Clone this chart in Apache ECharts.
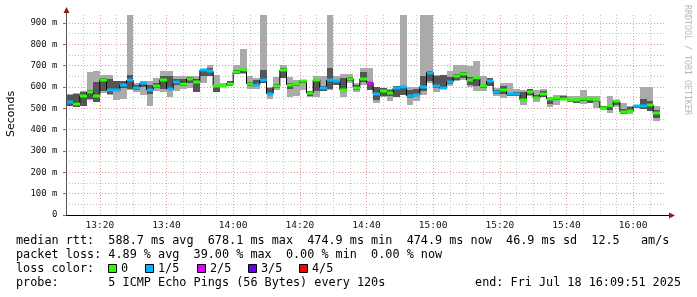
<!DOCTYPE html>
<html>
<head>
<meta charset="utf-8">
<script src="https://cdn.jsdelivr.net/npm/echarts@6/dist/echarts.min.js"></script>
<style>
html,body{margin:0;padding:0;background:#fff;}
#c{width:697px;height:297px;}
</style>
</head>
<body>
<div id="c"></div>
<script>
// ---------------- DATA ----------------
// step start times (120 s steps)
const stepTimes = ["13:10","13:12","13:14","13:16","13:18","13:20","13:22","13:24","13:26","13:28",
"13:30","13:32","13:34","13:36","13:38","13:40","13:42","13:44","13:46","13:48",
"13:50","13:52","13:54","13:56","13:58","14:00","14:02","14:04","14:06","14:08",
"14:10","14:12","14:14","14:16","14:18","14:20","14:22","14:24","14:26","14:28",
"14:30","14:32","14:34","14:36","14:38","14:40","14:42","14:44","14:46","14:48",
"14:50","14:52","14:54","14:56","14:58","15:00","15:02","15:04","15:06","15:08",
"15:10","15:12","15:14","15:16","15:18","15:20","15:22","15:24","15:26","15:28",
"15:30","15:32","15:34","15:36","15:38","15:40","15:42","15:44","15:46","15:48",
"15:50","15:52","15:54","15:56","15:58","16:00","16:02","16:04","16:06"];
const stepMinutes = 2;
// median rtt (ms)
const medianRtt = [528,522,556,575,558,634,587,584,608,631,
597,617,587,606,634,591,625,616,638,625,
678,673,603,606,616,672,678,616,609,634,
569,603,678,611,614,627,572,634,597,631,
627,587,639,597,638,620,566,583,572,596,
600,558,563,602,667,605,594,623,650,660,
632,640,605,627,575,586,566,566,541,575,
547,566,545,549,544,537,537,542,542,537,
502,509,533,484,487,511,511,515,476];
// loss level (0..4 of 5 pings)
const lossLevel = [1,0,0,0,0,0,1,1,1,1,
1,1,1,0,0,1,1,0,0,0,
1,1,0,0,0,0,0,0,1,1,
1,0,0,0,0,0,0,0,1,1,
1,0,0,0,0,2,1,0,0,1,
1,1,1,1,1,1,1,1,0,0,
0,0,0,1,1,0,1,1,0,0,
0,0,0,0,0,0,0,0,0,0,
0,0,0,0,0,1,1,0,0];
// smoke: outer (min..max) and inner ping ranges (ms)
const smokeOuterLo = [510,505,509,541,528,572,562,541,544,588,
575,564,513,580,575,553,580,591,597,575,
619,650,575,600,603,662,662,591,591,619,
544,584,642,553,559,584,553,553,580,584,
609,553,619,575,609,587,525,553,533,553,
564,514,533,564,619,575,600,603,627,634,
600,580,580,603,556,548,559,559,517,556,
528,553,506,517,541,528,525,519,525,502,
491,478,506,475,475,500,497,486,439];
const smokeOuterHi = [567,570,580,669,673,658,658,627,630,1000,
619,627,627,644,673,673,653,650,653,653,
681,705,658,619,627,705,778,653,642,1000,
600,647,705,647,634,634,580,650,650,1000,
653,662,662,619,689,689,600,595,591,603,
1000,600,600,1000,1000,658,658,673,705,705,
697,720,650,642,595,619,619,591,587,591,
584,591,553,564,564,559,556,584,556,556,
513,559,541,525,513,513,600,600,513];
const smokeInnerLo = [512,506,509,544,528,580,569,580,595,591,
587,600,569,595,591,588,611,603,619,575,
653,650,575,603,606,662,666,606,606,619,
569,595,642,591,606,619,559,580,580,591,
611,587,627,587,622,587,541,559,559,553,
564,548,559,580,627,595,595,614,634,641,
611,606,595,603,569,569,559,559,537,564,
544,553,522,541,541,528,525,533,525,528,
497,494,516,475,491,500,497,486,455];
const smokeInnerHi = [564,567,575,587,622,642,639,627,630,658,
611,623,611,620,650,650,637,637,647,637,
681,689,611,611,627,681,681,622,634,678,
595,614,689,619,616,634,580,638,606,689,
634,642,647,611,669,619,600,595,584,603,
600,587,591,653,677,653,655,647,662,669,
647,647,611,642,587,603,572,578,575,591,
564,580,548,553,556,541,537,548,541,541,
513,513,537,497,506,513,544,533,494];
// loss colors / legend
const lossLabels = ["0","1/5","2/5","3/5","4/5"];
const lossColors = ["#26ff00","#00b8ff","#dd00ff","#5e00ff","#ff0000"];
// axes
const yMajorTicks = [0,100,200,300,400,500,600,700,800,900];
const yMinorTicks = [50,150,250,350,450,550,650,750,850];
const xMajorTickLabels = ["13:20","13:40","14:00","14:20","14:40","15:00","15:20","15:40","16:00"];
const xMinorTickLabels = ["13:15","13:25","13:30","13:35","13:45","13:50","13:55","14:05","14:10","14:15","14:25","14:30","14:35","14:45","14:50","14:55","15:05","15:10","15:15","15:25","15:30","15:35","15:45","15:50","15:55","16:05"];
const rangeStart = "13:09:51", rangeEnd = "16:09:51";
// legend text values
const rttStats = ["588.7","678.1","474.9","474.9","46.9","12.5"];
const lossStats = ["4.89","39.00","0.00","0.00"];
const probeText = "5 ICMP Echo Pings (56 Bytes) every 120s";
const endText = "end: Fri Jul 18 16:09:51 2025";

// ---------------- HELPERS ----------------
function toMin(s){const p=s.split(':').map(Number);return p[0]*60+p[1]+(p[2]||0)/60;}
function fmt(m){const h=Math.floor(m/60),mm=Math.round(m-h*60);return h+':'+(mm<10?'0':'')+mm;}
const xMin = toMin(rangeStart), xMax = toMin(rangeEnd);
const t0s = stepTimes.map(toMin);

const smokeData = t0s.map((t,i)=>[t,t+stepMinutes,smokeOuterLo[i],smokeOuterHi[i],smokeInnerLo[i],smokeInnerHi[i]]);
const medLine = t0s.map((t,i)=>[t,medianRtt[i]]);
medLine.push([t0s[t0s.length-1]+stepMinutes, medianRtt[medianRtt.length-1]]);
const lossData = t0s.map((t,i)=>[t,t+stepMinutes,medianRtt[i],lossLevel[i]]);

const MONO = '"DejaVu Sans Mono", monospace';
const chart = echarts.init(document.getElementById('c'), null, {renderer:'canvas'});

function rectFrom(api, x0, x1, lo, hi){
  const a = api.coord([x0, hi]), b = api.coord([x1, lo]);
  const X0 = Math.round(a[0]), X1 = Math.round(b[0]);
  const Y0 = Math.round(a[1]), Y1 = Math.round(b[1]);
  return {x:X0, y:Y0, width:X1-X0, height:Y1-Y0};
}

const grayGrid = '#c4c4c4', redGrid = '#e09a9a';

const legendY = [241,255,269,283];
const boxX = [108,145,197,248,299];
const boxLabelX = [121,158,210,261,312];

const graphic = [
  {type:'line', shape:{x1:66.5,y1:15,x2:66.5,y2:11}, style:{stroke:'#555',lineWidth:1}, z:10},
  {type:'polygon', shape:{points:[[66.5,7],[63.5,13],[69.5,13]]}, style:{fill:'#8b1c1c'}, z:10},
  {type:'line', shape:{x1:666,y1:215.5,x2:670,y2:215.5}, style:{stroke:'#000',lineWidth:1}, z:10},
  {type:'polygon', shape:{points:[[675,215.5],[669,212.5],[669,218.5]]}, style:{fill:'#8b1c1c'}, z:10},
  {type:'text', x:11, y:114, rotation:Math.PI/2, style:{text:'Seconds', font:'11px "DejaVu Sans", sans-serif', fill:'#000', align:'center', verticalAlign:'middle'}},
  {type:'text', x:687, y:5, rotation:-Math.PI/2, style:{text:'RRDTOOL / TOBI OETIKER', font:'8.3px '+MONO, fill:'#b8b8b8', align:'left', verticalAlign:'middle'}},
  {type:'text', x:16, y:legendY[0], style:{text:'median rtt:  '+rttStats[0]+' ms avg  '+rttStats[1]+' ms max  '+rttStats[2]+' ms min  '+rttStats[3]+' ms now  '+rttStats[4]+' ms sd  '+rttStats[5]+'   am/s', font:'11.8px '+MONO, fill:'#000', align:'left', verticalAlign:'middle'}},
  {type:'text', x:16, y:legendY[1], style:{text:'packet loss: '+lossStats[0]+' % avg  '+lossStats[1]+' % max  '+lossStats[2]+' % min  '+lossStats[3]+' % now', font:'11.8px '+MONO, fill:'#000', align:'left', verticalAlign:'middle'}},
  {type:'text', x:16, y:legendY[2], style:{text:'loss color:', font:'11.8px '+MONO, fill:'#000', align:'left', verticalAlign:'middle'}},
  {type:'text', x:16, y:legendY[3], style:{text:'probe:       '+probeText, font:'11.8px '+MONO, fill:'#000', align:'left', verticalAlign:'middle'}},
  {type:'text', x:681, y:legendY[3], style:{text:endText, font:'11.8px '+MONO, fill:'#000', align:'right', verticalAlign:'middle'}}
];
lossLabels.forEach((lab,i)=>{
  graphic.push({type:'rect', shape:{x:boxX[i]+0.5,y:legendY[2]-4.5,width:8,height:8}, style:{fill:lossColors[i], stroke:'#000', lineWidth:1}});
  graphic.push({type:'text', x:boxLabelX[i], y:legendY[2], style:{text:lab, font:'11.8px '+MONO, fill:'#000', align:'left', verticalAlign:'middle'}});
});

const option = {
  animation:false,
  backgroundColor:'#ffffff',
  grid:{left:66, top:15, width:600, height:200, containLabel:false},
  xAxis:[
    {type:'value', min:xMin, max:xMax,
     axisLine:{show:true, lineStyle:{color:'#000', width:1}},
     axisTick:{show:false, customValues:xMajorTickLabels.map(toMin)},
     axisLabel:{show:true, customValues:xMajorTickLabels.map(toMin), formatter:v=>fmt(v), fontFamily:'"DejaVu Sans Mono", monospace', fontSize:9.5, color:'#111', margin:5.5},
     splitLine:{show:true, lineStyle:{color:redGrid, width:1, type:[1,2]}}},
    {type:'value', min:xMin, max:xMax, gridIndex:0,
     axisLine:{show:false}, axisLabel:{show:false},
     axisTick:{show:false, customValues:xMinorTickLabels.map(toMin)},
     splitLine:{show:true, lineStyle:{color:grayGrid, width:1, type:[1,2]}}}
  ],
  yAxis:[
    {type:'value', min:0, max:937.5,
     axisLine:{show:true, lineStyle:{color:'#555', width:1}},
     axisTick:{show:true, length:3, customValues:yMajorTicks, lineStyle:{color:'#b06060'}},
     axisLabel:{show:true, customValues:yMajorTicks, formatter:v=>v===0?'0':(v+' m'), fontFamily:'"DejaVu Sans Mono", monospace', fontSize:9, color:'#111', margin:8.5},
     splitLine:{show:true, lineStyle:{color:redGrid, width:1, type:[1,2]}}},
    {type:'value', min:0, max:937.5, position:'left',
     axisLine:{show:false}, axisLabel:{show:false},
     axisTick:{show:false, customValues:yMinorTicks},
     splitLine:{show:true, lineStyle:{color:grayGrid, width:1, type:[1,2]}}}
  ],
  series:[
    {type:'custom', name:'smoke', xAxisIndex:0, yAxisIndex:0, clip:true, silent:true, z:2,
     data:smokeData,
     renderItem:(params, api)=>{
       const x0=api.value(0), x1=api.value(1);
       return {type:'group', children:[
         {type:'rect', shape:rectFrom(api,x0,x1,api.value(2),api.value(3)), style:{fill:'#aaaaaa'}},
         {type:'rect', shape:rectFrom(api,x0,x1,api.value(4),api.value(5)), style:{fill:'#555555'}}
       ]};
     }},
    {type:'line', name:'median', xAxisIndex:0, yAxisIndex:0, data:medLine, step:'end', symbol:'none', silent:true, z:3,
     lineStyle:{color:'#000', width:1}},
    {type:'custom', name:'loss', xAxisIndex:0, yAxisIndex:0, clip:true, silent:true, z:5,
     data:lossData,
     renderItem:(params, api)=>{
       const a=api.coord([api.value(0), api.value(2)]), b=api.coord([api.value(1), api.value(2)]);
       const X0=Math.round(a[0]), X1=Math.round(b[0]), Y=Math.round(a[1]);
       return {type:'rect', shape:{x:X0, y:Y-1.5, width:X1-X0, height:3}, style:{fill:lossColors[api.value(3)]}};
     }}
  ],
  graphic:graphic
};
chart.setOption(option);
</script>
</body>
</html>
